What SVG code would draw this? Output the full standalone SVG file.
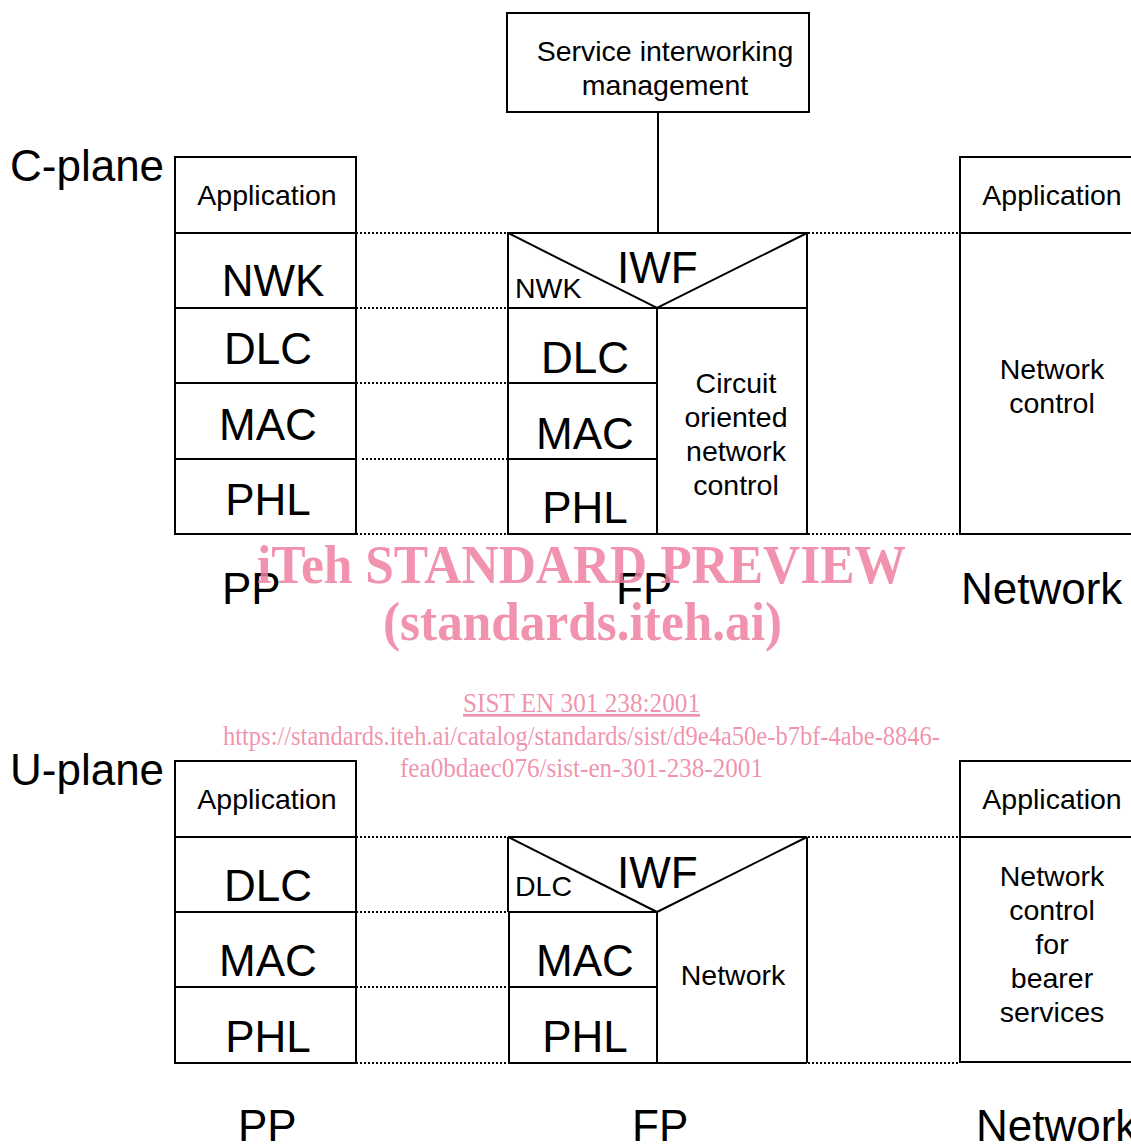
<svg xmlns="http://www.w3.org/2000/svg" width="1131" height="1144" viewBox="0 0 1131 1144">
  <style>
    .box { fill: none; stroke: #000; stroke-width: 2; }
    .ln { stroke: #000; stroke-width: 2; fill: none; }
    .dot { stroke: #000; stroke-width: 2; stroke-dasharray: 2 2; fill: none; shape-rendering: crispEdges; }
    text { font-family: "Liberation Sans", Arial, sans-serif; fill: #000; }
    .big { font-size: 44px; }
    .mid { font-size: 28.5px; }
    .plane { font-size: 44px; }
    .c { text-anchor: middle; }
    .wm { font-family: "Liberation Serif", "Times New Roman", serif; fill: #ee7fa0; fill-opacity: 0.85; }
    .wmb { font-weight: bold; font-size: 54px; }
    .wms { font-size: 27px; }
  </style>
  <rect width="1131" height="1144" fill="#fff"/>

  <!-- connectors: dotted peer lines and IWF link -->
  <g id="connectors">
    <line class="ln" x1="658" y1="112" x2="658" y2="233"/>
    <line class="dot" x1="356" y1="233" x2="508" y2="233"/>
    <line class="dot" x1="356" y1="308" x2="508" y2="308"/>
    <line class="dot" x1="356" y1="383" x2="508" y2="383"/>
    <line class="dot" x1="362" y1="459" x2="508" y2="459"/>
    <line class="dot" x1="356" y1="534" x2="508" y2="534"/>
    <line class="dot" x1="808" y1="233" x2="960" y2="233"/>
    <line class="dot" x1="808" y1="534" x2="960" y2="534"/>
    <line class="dot" x1="356" y1="837" x2="508" y2="837"/>
    <line class="dot" x1="356" y1="912" x2="508" y2="912"/>
    <line class="dot" x1="356" y1="987" x2="508" y2="987"/>
    <line class="dot" x1="356" y1="1063" x2="508" y2="1063"/>
    <line class="dot" x1="808" y1="837" x2="960" y2="837"/>
    <line class="dot" x1="808" y1="1063" x2="960" y2="1063"/>
  </g>

  <!-- service interworking management -->
  <g id="sim">
    <rect class="box" x="507" y="13" width="302" height="99"/>
    <text class="mid c" x="665" y="61">Service interworking</text>
    <text class="mid c" x="665" y="95">management</text>
  </g>

  <text class="plane" x="10" y="181">C-plane</text>
  <text class="plane" x="10" y="785">U-plane</text>

  <!-- C-plane PP stack -->
  <g id="c-pp">
    <rect class="box" x="175" y="157" width="181" height="377"/>
    <line class="ln" x1="175" y1="233" x2="356" y2="233"/>
    <line class="ln" x1="175" y1="308" x2="356" y2="308"/>
    <line class="ln" x1="175" y1="383" x2="356" y2="383"/>
    <line class="ln" x1="175" y1="459" x2="356" y2="459"/>
    <text class="mid c" x="267" y="205">Application</text>
    <text class="big c" x="273" y="296">NWK</text>
    <text class="big c" x="268" y="364">DLC</text>
    <text class="big c" x="268" y="440">MAC</text>
    <text class="big c" x="268" y="515">PHL</text>
  </g>

  <!-- C-plane FP with IWF -->
  <g id="c-fp">
    <rect class="box" x="508" y="233" width="299" height="301"/>
    <line class="ln" x1="508" y1="308" x2="807" y2="308"/>
    <polyline class="ln" points="508,233 657,308 807,233"/>
    <line class="ln" x1="657" y1="308" x2="657" y2="534"/>
    <line class="ln" x1="509" y1="383" x2="657" y2="383"/>
    <line class="ln" x1="509" y1="459" x2="657" y2="459"/>
    <text class="big" x="617" y="283">IWF</text>
    <text class="mid" x="515" y="298">NWK</text>
    <text class="big c" x="585" y="373">DLC</text>
    <text class="big c" x="585" y="449">MAC</text>
    <text class="big c" x="585" y="523">PHL</text>
    <text class="mid c" x="736" y="393">Circuit</text>
    <text class="mid c" x="736" y="427">oriented</text>
    <text class="mid c" x="736" y="461">network</text>
    <text class="mid c" x="736" y="495">control</text>
  </g>

  <!-- C-plane Network -->
  <g id="c-net">
    <rect class="box" x="960" y="157" width="200" height="377"/>
    <line class="ln" x1="960" y1="233" x2="1131" y2="233"/>
    <text class="mid c" x="1052" y="205">Application</text>
    <text class="mid c" x="1052" y="379">Network</text>
    <text class="mid c" x="1052" y="413">control</text>
  </g>

  <text class="big" x="222" y="604">PP</text>
  <text class="big" x="616" y="604">FP</text>
  <text class="big" x="961" y="604">Network</text>

  <!-- U-plane PP stack -->
  <g id="u-pp">
    <rect class="box" x="175" y="761" width="181" height="302"/>
    <line class="ln" x1="175" y1="837" x2="356" y2="837"/>
    <line class="ln" x1="175" y1="912" x2="356" y2="912"/>
    <line class="ln" x1="175" y1="987" x2="356" y2="987"/>
    <text class="mid c" x="267" y="809">Application</text>
    <text class="big c" x="268" y="901">DLC</text>
    <text class="big c" x="268" y="976">MAC</text>
    <text class="big c" x="268" y="1052">PHL</text>
  </g>

  <!-- U-plane FP with IWF -->
  <g id="u-fp">
    <line class="ln" x1="508" y1="837" x2="807" y2="837"/>
    <line class="ln" x1="508" y1="837" x2="508" y2="912"/>
    <line class="ln" x1="807" y1="837" x2="807" y2="1063"/>
    <line class="ln" x1="508" y1="912" x2="657" y2="912"/>
    <line class="ln" x1="508" y1="837" x2="657" y2="912"/>
    <line class="ln" x1="657" y1="912" x2="807" y2="837" stroke-width="3"/>
    <rect class="box" x="509" y="912" width="148" height="151"/>
    <line class="ln" x1="509" y1="987" x2="657" y2="987"/>
    <line class="ln" x1="657" y1="1063" x2="807" y2="1063"/>
    <text class="big" x="617" y="888">IWF</text>
    <text class="mid" x="515" y="896">DLC</text>
    <text class="big c" x="585" y="976">MAC</text>
    <text class="big c" x="585" y="1052">PHL</text>
    <text class="mid c" x="733" y="985">Network</text>
  </g>

  <!-- U-plane Network -->
  <g id="u-net">
    <rect class="box" x="960" y="761" width="200" height="301"/>
    <line class="ln" x1="960" y1="837" x2="1131" y2="837"/>
    <text class="mid c" x="1052" y="809">Application</text>
    <text class="mid c" x="1052" y="886">Network</text>
    <text class="mid c" x="1052" y="920">control</text>
    <text class="mid c" x="1052" y="954">for</text>
    <text class="mid c" x="1052" y="988">bearer</text>
    <text class="mid c" x="1052" y="1022">services</text>
  </g>

  <text class="big" x="238" y="1141">PP</text>
  <text class="big" x="632" y="1141">FP</text>
  <text class="big" x="976" y="1141">Network</text>

  <!-- publisher watermark -->
  <g id="watermark">
    <text class="wm wmb" x="257" y="583" textLength="649" lengthAdjust="spacingAndGlyphs">iTeh STANDARD PREVIEW</text>
    <text class="wm wmb" x="383" y="640" textLength="399" lengthAdjust="spacingAndGlyphs">(standards.iteh.ai)</text>
    <text class="wm wms" x="463" y="712" textLength="237" lengthAdjust="spacingAndGlyphs" text-decoration="underline">SIST EN 301 238:2001</text>
    <text class="wm wms" x="223" y="745" textLength="717" lengthAdjust="spacingAndGlyphs">https://standards.iteh.ai/catalog/standards/sist/d9e4a50e-b7bf-4abe-8846-</text>
    <text class="wm wms" x="400" y="777" textLength="363" lengthAdjust="spacingAndGlyphs">fea0bdaec076/sist-en-301-238-2001</text>
  </g>
</svg>
